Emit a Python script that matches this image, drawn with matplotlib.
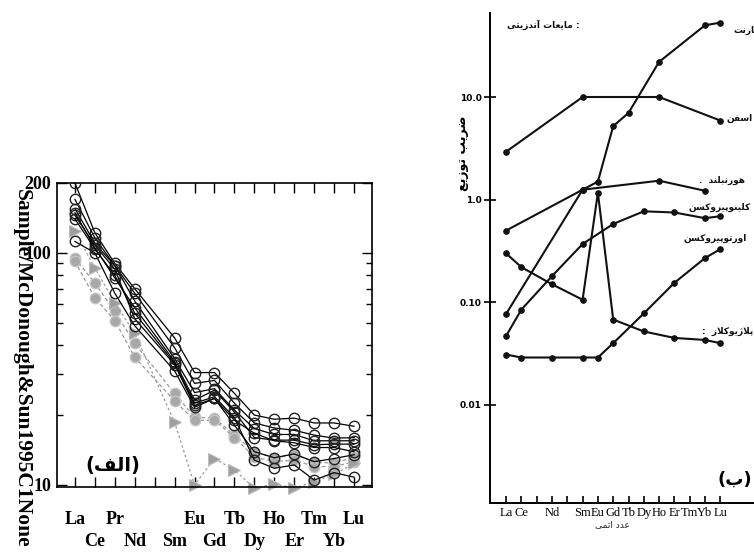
import matplotlib as mpl
import numpy as np
from matplotlib import pyplot as plt
from matplotlib.ticker import FixedLocator, NullFormatter

# ---- left panel: chondrite normalised REE (McDonough & Sun 1995) ----
ree_left = ['La', 'Ce', 'Pr', 'Nd', 'Pm', 'Sm', 'Eu', 'Gd', 'Tb', 'Dy', 'Ho', 'Er', 'Tm', 'Yb', 'Lu']
row1 = ['La', 'Pr', 'Eu', 'Tb', 'Ho', 'Tm', 'Lu']
row2 = ['Ce', 'Nd', 'Sm', 'Gd', 'Dy', 'Er', 'Yb']
left_elems = ['La', 'Ce', 'Pr', 'Nd', 'Sm', 'Eu', 'Gd', 'Tb', 'Dy', 'Ho', 'Er', 'Tm', 'Yb', 'Lu']

black_samples = [
    [200, 122, 90, 70, 43, 30.5, 30.5, 24.8, 20.0, 19.2, 19.4, 18.5, 18.5, 17.9],
    [170, 116, 88, 67, 39, 27.4, 28.2, 22.5, 18.5, 17.6, 17.2, 16.4, 15.9, 16.0],
    [155, 110, 88, 62, 35, 25.0, 26.0, 21.0, 17.5, 16.5, 16.5, 15.5, 15.5, 15.5],
    [149, 105, 78, 58, 34, 23.2, 25.6, 20.6, 16.0, 15.6, 15.6, 14.9, 15.0, 15.0],
    [145, 108, 85, 52, 33, 22.0, 23.6, 19.0, 16.7, 15.5, 15.2, 14.5, 14.5, 13.9],
    [112, 100, 67, 48.5, 31, 21.6, 23.6, 18.1, 13.9, 13.1, 13.6, 12.6, 13.0, 13.5],
    [140, 104, 80, 55, 33.4, 22.5, 24.0, 19.5, 12.8, 11.8, 12.2, 10.5, 11.3, 10.8],
]
gray_circles = [
    [95, 74, 56, 40.7, 24.8, 19.6, 19.4, 16.4, 13.9, 13.1, 13.5, 12.6, 12.4, 13.2],
    [92, 64, 51, 35.5, 23.0, 19.0, 19.0, 16.0, 13.2, 12.6, 12.8, 12.0, 12.0, 12.6],
]
gray_triangles = [124, 86, 61, 45, 18.6, 10.0, 13.0, 11.6, 9.7, 10.1, 9.7, 10.3, 11.1, 12.4]

# ---- right panel: partition coefficients ----
ree_right = ['La', 'Ce', '', 'Nd', '', 'Sm', 'Eu', 'Gd', 'Tb', 'Dy', 'Ho', 'Er', 'Tm', 'Yb', 'Lu']
garnet_x = ['La', 'Sm', 'Eu', 'Gd', 'Tb', 'Ho', 'Yb', 'Lu']
garnet_y = [0.077, 1.25, 1.5, 5.2, 7.0, 22, 50, 53]
sphene_x = ['La', 'Sm', 'Ho', 'Lu']
sphene_y = [2.93, 10, 10, 5.9]
hbl_x = ['La', 'Sm', 'Ho', 'Yb']
hbl_y = [0.5, 1.25, 1.53, 1.22]
cpx_x = ['La', 'Ce', 'Nd', 'Sm', 'Gd', 'Dy', 'Er', 'Yb', 'Lu']
cpx_y = [0.047, 0.085, 0.18, 0.37, 0.58, 0.77, 0.75, 0.66, 0.69]
opx_x = ['La', 'Ce', 'Nd', 'Sm', 'Eu', 'Gd', 'Dy', 'Er', 'Yb', 'Lu']
opx_y = [0.031, 0.029, 0.029, 0.029, 0.029, 0.040, 0.078, 0.155, 0.27, 0.33]
plag_x = ['La', 'Ce', 'Nd', 'Sm', 'Eu', 'Gd', 'Dy', 'Er', 'Yb', 'Lu']
plag_y = [0.30, 0.22, 0.15, 0.106, 1.17, 0.068, 0.052, 0.045, 0.043, 0.040]

# minimal arabic/persian shaping (no reshaper available offline)
FORMS = {
    'ا': ('\uFE8D', '\uFE8E', None, None), 'آ': ('\uFE81', '\uFE82', None, None),
    'ب': ('\uFE8F', '\uFE90', '\uFE91', '\uFE92'), 'پ': ('\uFB56', '\uFB57', '\uFB58', '\uFB59'),
    'ت': ('\uFE95', '\uFE96', '\uFE97', '\uFE98'), 'د': ('\uFEA9', '\uFEAA', None, None),
    'ر': ('\uFEAD', '\uFEAE', None, None), 'ز': ('\uFEAF', '\uFEB0', None, None),
    'ژ': ('\uFB8A', '\uFB8B', None, None), 'س': ('\uFEB1', '\uFEB2', '\uFEB3', '\uFEB4'),
    'ض': ('\uFEBD', '\uFEBE', '\uFEBF', '\uFEC0'), 'ع': ('\uFEC9', '\uFECA', '\uFECB', '\uFECC'),
    'ف': ('\uFED1', '\uFED2', '\uFED3', '\uFED4'), 'ک': ('\uFB8E', '\uFB8F', '\uFB90', '\uFB91'),
    'گ': ('\uFB92', '\uFB93', '\uFB94', '\uFB95'), 'ل': ('\uFEDD', '\uFEDE', '\uFEDF', '\uFEE0'),
    'م': ('\uFEE1', '\uFEE2', '\uFEE3', '\uFEE4'), 'ن': ('\uFEE5', '\uFEE6', '\uFEE7', '\uFEE8'),
    'ه': ('\uFEE9', '\uFEEA', '\uFEEB', '\uFEEC'), 'و': ('\uFEED', '\uFEEE', None, None),
    'ی': ('\uFBFC', '\uFBFD', '\uFBFE', '\uFBFF'),
}


def shape(text):
    res = []
    i = 0
    n = len(text)
    while i < n:
        c = text[i]
        if c not in FORMS:
            res.append(c)
            i += 1
            continue
        prev_joins = i > 0 and text[i-1] in FORMS and FORMS[text[i-1]][2] is not None
        if c == 'ل' and i + 1 < n and text[i+1] == 'ا':
            res.append('\uFEFC' if prev_joins else '\uFEFB')
            i += 2
            continue
        f = FORMS[c]
        next_joins = f[2] is not None and i + 1 < n and text[i+1] in FORMS
        if prev_joins and next_joins:
            res.append(f[3])
        elif prev_joins:
            res.append(f[1])
        elif next_joins:
            res.append(f[2])
        else:
            res.append(f[0])
        i += 1
    return ''.join(reversed(res))


W, H = 754, 557
fig = plt.figure(figsize=(W/100, H/100), dpi=100)

serif = 'Liberation Serif'
arab = ['DejaVu Sans']

# ================= left panel =================
ax1 = fig.add_axes([57/W, 1 - 487/H, 315/W, 304/H])
xpos = {e: i + 1 for i, e in enumerate(ree_left)}
lx = [xpos[e] for e in left_elems]

for s in gray_circles:
    ax1.plot(lx, s, color='#9a9a9a', lw=0.9, ls=(0, (3, 2)), marker='o', ms=7.5,
             mfc='#a8a8a8', mec='#c4c4c4', mew=1.0, zorder=2)
ax1.plot(lx, gray_triangles, color='#9a9a9a', lw=0.9, ls=(0, (2, 2)), marker='>', ms=8,
         mfc='#9e9e9e', mec='#bdbdbd', mew=0.8, zorder=2, clip_on=False)
for s in black_samples:
    ax1.plot(lx, s, color='black', lw=0.9, marker='o', ms=7.5, mfc='none',
             mec='#222222', mew=1.0, zorder=3)

ax1.set_yscale('log')
ax1.set_xlim(0.1, 15.9)
ax1.set_ylim(9.8, 200)
# two rows of element labels: row1 on major ticks, row2 on minor ticks
ax1.set_xticks([xpos[e] for e in row1])
ax1.set_xticklabels(row1, fontfamily=serif, fontweight='bold', fontsize=13)
ax1.set_xticks([xpos[e] for e in row2] + [xpos['Pm']], minor=True)
ax1.set_xticklabels(row2 + [''], minor=True, fontfamily=serif, fontweight='bold', fontsize=13)
ax1.yaxis.set_major_locator(FixedLocator([10, 100, 200]))
ax1.set_yticklabels(['10', '100', '200'], fontfamily=serif, fontweight='bold', fontsize=13)
ax1.yaxis.set_minor_locator(FixedLocator([20, 30, 40, 50, 60, 70, 80, 90]))
ax1.yaxis.set_minor_formatter(NullFormatter())
ax1.tick_params(axis='both', which='major', direction='in', length=7, width=1,
                top=True, right=True, pad=4)
ax1.tick_params(axis='y', which='minor', direction='in', length=4, width=1, right=True)
ax1.tick_params(axis='x', which='major', pad=17)
ax1.tick_params(axis='x', which='minor', direction='in', length=7, width=1, top=True, pad=33)
for sp in ax1.spines.values():
    sp.set_linewidth(1.2)

fig.text(22/W, 1 - 368/H, 'Sample/McDonough&Sun1995C1None', rotation=-90,
         ha='center', va='center', fontfamily=serif, fontweight='bold', fontsize=15.5)
fig.text(113/W, 1 - 465/H, '(' + shape('الف') + ')', ha='center', va='center',
         family=arab, fontweight='bold', fontsize=14)

# ================= right panel =================
ax2 = fig.add_axes([490/W, 1 - 503/H, (W - 490)/W, 490/H])
rpos = {e: i for i, e in enumerate(['La', 'Ce', 'Pr', 'Nd', 'Pm', 'Sm', 'Eu', 'Gd', 'Tb',
                                       'Dy', 'Ho', 'Er', 'Tm', 'Yb', 'Lu'])}
for xs, ys in [(garnet_x, garnet_y), (sphene_x, sphene_y), (hbl_x, hbl_y),
               (cpx_x, cpx_y), (opx_x, opx_y), (plag_x, plag_y)]:
    ax2.plot([rpos[e] for e in xs], ys, color='#111111', lw=1.5, marker='o', ms=3.8,
             mfc='#111111', mec='#111111')

ax2.set_yscale('log')
ax2.set_xlim(-1.05, 16.2)
ax2.set_ylim(0.00111, 65.8)
ax2.spines['top'].set_visible(False)
ax2.spines['right'].set_visible(False)
ax2.spines['left'].set_linewidth(1.4)
ax2.spines['bottom'].set_linewidth(1.4)
ax2.yaxis.set_major_locator(FixedLocator([0.01, 0.1, 1.0, 10.0]))
ax2.yaxis.set_minor_locator(FixedLocator([]))
ax2.set_yticklabels(['0.01', '0.10', '1.0', '10.0'], fontfamily='DejaVu Sans',
                    fontweight='bold', fontsize=6.5)
ax2.set_xticks(range(15))
ax2.set_xticklabels(ree_right, fontfamily=serif, fontsize=9)
ax2.tick_params(axis='y', direction='inout', length=8, width=1.2, pad=2)
ax2.tick_params(axis='x', direction='in', length=5, width=1.2, pad=3)

rt = dict(family=arab, fontweight='bold', fontsize=6.5, color='#111111')
fig.text(543/W, 1 - 25/H, shape('مایعات آندزیتی') + ' :', ha='center', va='center', **rt)
fig.text(733/W, 1 - 30/H, shape('گارنت'), ha='left', va='center', **rt)
fig.text(753/W, 1 - 118/H, shape('اسفن'), ha='right', va='center', **rt)
fig.text(722/W, 1 - 180/H, '.  ' + shape('هورنبلند'), ha='center', va='center', **rt)
fig.text(720/W, 1 - 207/H, shape('کلینوپیروکسن'), ha='center', va='center', **rt)
fig.text(715/W, 1 - 238/H, shape('اورتوپیروکسن'), ha='center', va='center', **rt)
fig.text(753/W, 1 - 331/H, ':  ' + shape('پلاژیوکلاز'), ha='right', va='center', **rt)
fig.text(735/W, 1 - 480/H, '(' + shape('ب') + ')', ha='center', va='center',
         family=arab, fontweight='bold', fontsize=13)
fig.text(612/W, 1 - 525/H, shape('عدد اتمی'), ha='center', va='center',
         family=arab, fontsize=6.5, color='#222222')
fig.text(463/W, 1 - 153/H, shape('ضریب توزیع'), rotation=90, ha='center', va='center',
         family=arab, fontweight='bold', fontsize=9)

fig.savefig('out.png', dpi=100)
